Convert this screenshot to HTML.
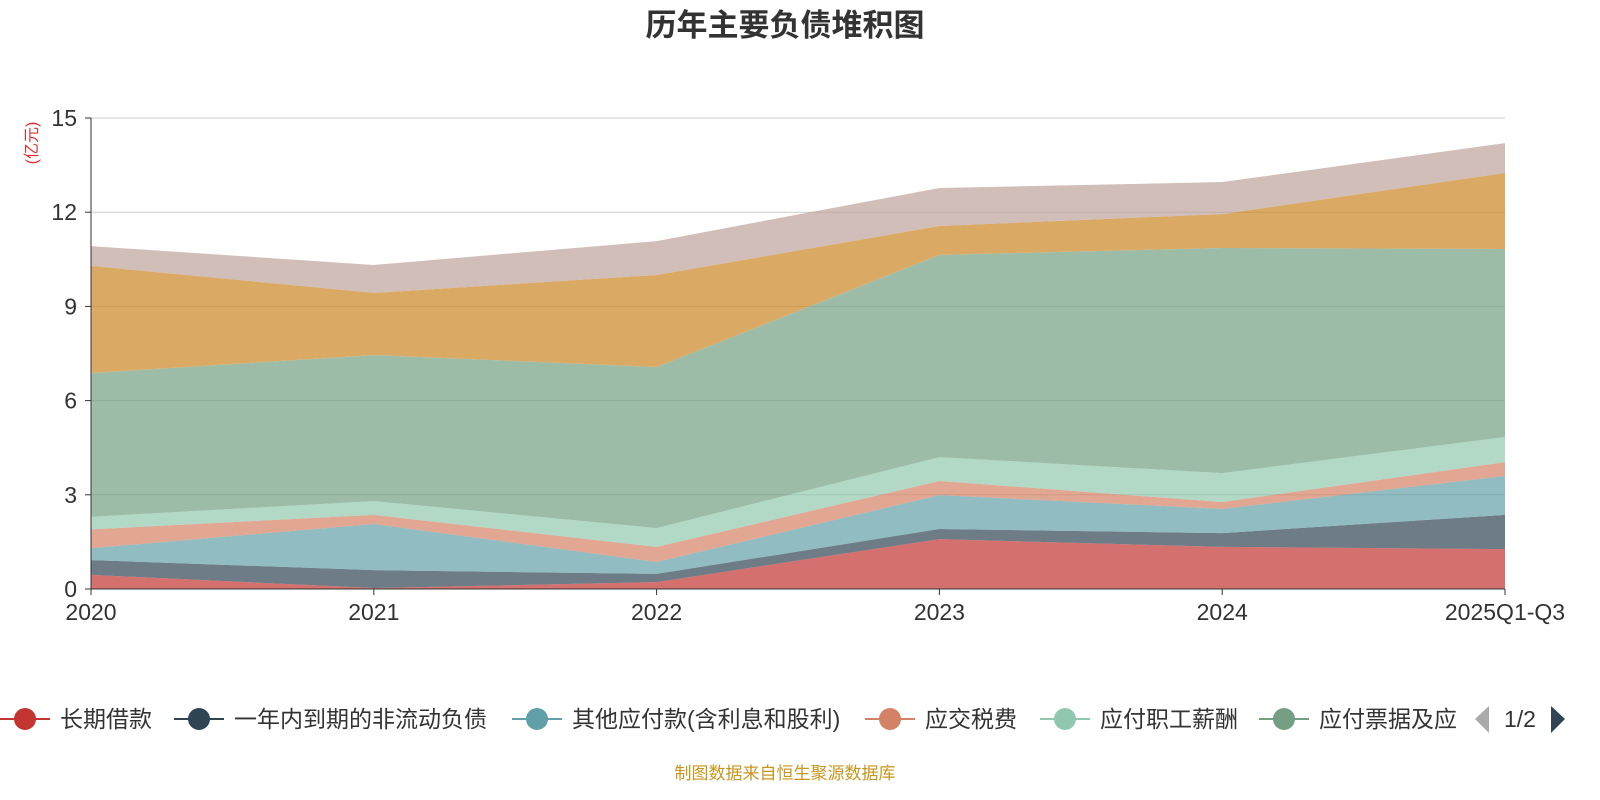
<!DOCTYPE html>
<html><head><meta charset="utf-8">
<style>
html,body{margin:0;padding:0;background:#fff;width:1600px;height:800px;overflow:hidden}
svg{display:block;font-family:"Liberation Sans","Noto Sans CJK SC",sans-serif}
</style></head>
<body>
<svg id="chart" width="1600" height="800">
<text x="785" y="36" text-anchor="middle" font-size="31" font-weight="bold" fill="#333">历年主要负债堆积图</text>
<text x="0" y="0" transform="translate(37,143) rotate(-90)" text-anchor="middle" font-size="16" fill="#e03030">(亿元)</text>
<g id="grid"></g>
<g id="areas"></g>
<g id="axes"></g>
<g id="legend"></g>
<text x="785" y="779" text-anchor="middle" font-size="17" fill="#c8961e">制图数据来自恒生聚源数据库</text>
</svg>
<script>
const categories = ["2020","2021","2022","2023","2024","2025Q1-Q3"];
const seriesNames = ["长期借款","一年内到期的非流动负债","其他应付款(含利息和股利)","应交税费","应付职工薪酬","应付票据及应付账款","预收款项","其他"];
const sLongLoan = [0.45,0.03,0.22,1.59,1.34,1.27];
const sCurrentNonCurrent = [0.47,0.57,0.26,0.32,0.44,1.09];
const sOtherPayables = [0.38,1.47,0.38,1.08,0.77,1.24];
const sTaxes = [0.60,0.29,0.48,0.45,0.22,0.44];
const sSalaries = [0.40,0.44,0.60,0.76,0.92,0.80];
const sNotesPayable = [4.58,4.65,5.13,6.44,7.17,5.99];
const sOrange = [3.41,1.98,2.93,0.92,1.08,2.42];
const sTaupe = [0.63,0.89,1.08,1.21,1.02,0.95];
const yTicks = [0,3,6,9,12,15];
const colors = ["#c23531","#2f4554","#61a0a8","#d48265","#91c7ae","#749f83","#ca8622","#bda29a"];
const allSeries = [sLongLoan,sCurrentNonCurrent,sOtherPayables,sTaxes,sSalaries,sNotesPayable,sOrange,sTaupe];

const X0=91,X1=1505,Y0=589,Y1=118,YMAX=15;
const xs = i => X0 + (X1-X0)*i/(categories.length-1);
const ys = v => Y0 - (Y0-Y1)*v/YMAX;
const NS="http://www.w3.org/2000/svg";
function mk(tag,attrs,parent){const e=document.createElementNS(NS,tag);for(const k in attrs)e.setAttribute(k,attrs[k]);parent.appendChild(e);return e;}

const grid=document.getElementById('grid');
yTicks.forEach(t=>{
  if(t>0){const l=mk('line',{x1:X0,x2:X1,y1:ys(t),y2:ys(t),stroke:'#ccc','stroke-width':1},grid);
  
  }
});

const areas=document.getElementById('areas');
let base=categories.map(()=>0);
allSeries.forEach((s,k)=>{
  const top=base.map((b,i)=>b+s[i]);
  let d='M'+categories.map((c,i)=>xs(i)+','+ys(top[i])).join('L');
  for(let i=categories.length-1;i>=0;i--) d+='L'+xs(i)+','+ys(base[i]);
  d+='Z';
  const p=mk('path',{d:d,fill:colors[k],'fill-opacity':0.7,stroke:'none'},areas);
  
  
  base=top;
});

const axes=document.getElementById('axes');
const ya=mk('line',{x1:X0,x2:X0,y1:Y1,y2:Y0,stroke:'#333','stroke-width':1},axes);


const xa=mk('line',{x1:X0,x2:X1,y1:Y0,y2:Y0,stroke:'#333','stroke-width':1},axes);


yTicks.forEach(t=>{
  mk('line',{x1:X0-6,x2:X0,y1:ys(t),y2:ys(t),stroke:'#333'},axes);
  const tx=mk('text',{x:X0-14,y:ys(t)+8,'text-anchor':'end','font-size':23,fill:'#333'},axes);
  tx.textContent=t;
  
  
});
categories.forEach((c,i)=>{
  mk('line',{x1:xs(i),x2:xs(i),y1:Y0,y2:Y0+6,stroke:'#333'},axes);
  const tx=mk('text',{x:xs(i),y:Y0+31,'text-anchor':'middle','font-size':23,fill:'#333'},axes);
  tx.textContent=c;
  
  
});

const legend=document.getElementById('legend');
const clip=mk('clipPath',{id:'lgclip'},legend);
mk('rect',{x:0,y:690,width:1458,height:60},clip);
const lgCenters=[25,199,537,890,1065,1284];
for(let k=0;k<6;k++){
  const g=mk('g',{},legend);
  
  
  if(k===5) g.setAttribute('clip-path','url(#lgclip)');
  const cx=lgCenters[k];
  mk('line',{x1:cx-25,x2:cx+25,y1:719,y2:719,stroke:colors[k],'stroke-width':2},g);
  mk('circle',{cx:cx,cy:719,r:11,fill:colors[k]},g);
  const t=mk('text',{x:cx+35,y:727,'font-size':23,fill:'#333'},g);
  t.textContent=seriesNames[k];
}
const pl=mk('path',{d:'M1489,706 L1475,719 L1489,733 Z',fill:'#aaa'},legend);


const pt=mk('text',{x:1520,y:727,'text-anchor':'middle','font-size':23,fill:'#333'},legend);
pt.textContent='1/2';


const pn=mk('path',{d:'M1551,706 L1565,719 L1551,733 Z',fill:'#2f4554'},legend);


</script>
</body></html>
